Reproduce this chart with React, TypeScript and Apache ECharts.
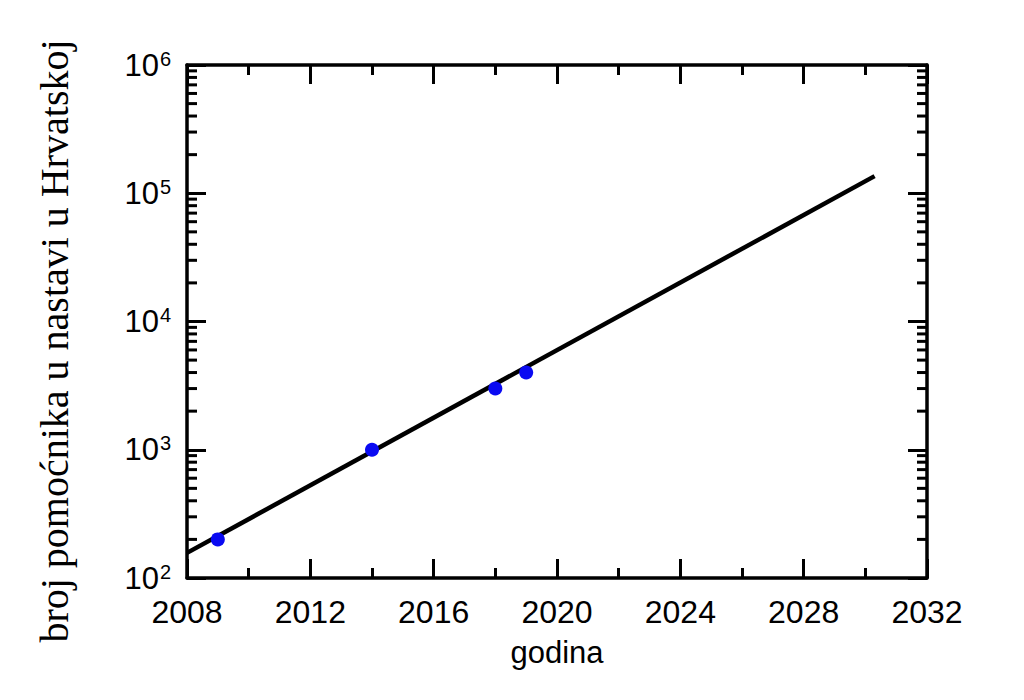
import React, { useEffect, useRef } from "react";
import * as echarts from "echarts";

const years = [2009, 2014, 2018, 2019];
const counts = [200, 1000, 3000, 4000];
const fitYears = [2008, 2030.3];
const fitCounts = [157, 136000];
const xTicks = { min: 2008, max: 2032, interval: 4 };
const yRange = { min: 100, max: 1000000 };
const minorMultipliers = [2, 3, 4, 5, 6, 7, 8, 9];
const decades = [100, 1000, 10000, 100000];
const xTitle = "godina";
const yTitle = "broj pomoćnika u nastavi u Hrvatskoj";

export default function App() {
  const ref = useRef<HTMLDivElement>(null);
  useEffect(() => {
    if (!ref.current) return;
    const chart = echarts.init(ref.current, undefined, { renderer: "svg" });
    const minorVals: number[][] = [];
    decades.forEach((d) => minorMultipliers.forEach((m) => minorVals.push([xTicks.min, d * m])));
    const sans = "'Liberation Sans', Arial, sans-serif";
    const axisLine = { show: true, lineStyle: { color: "#000", width: 3.5 } };
    const tickStyle = { color: "#000", width: 3 };
    const commonX = {
      type: "value",
      min: xTicks.min,
      max: xTicks.max,
      interval: xTicks.interval,
      splitLine: { show: false },
      axisLine,
      axisTick: { show: true, inside: true, length: 19, lineStyle: tickStyle },
      minorTick: { show: true, splitNumber: 2, length: 10, lineStyle: tickStyle },
      minorSplitLine: { show: false },
    };
    const commonY = {
      type: "log",
      logBase: 10,
      min: yRange.min,
      max: yRange.max,
      splitLine: { show: false },
      axisLine,
      axisTick: { show: true, inside: true, length: 19, lineStyle: tickStyle },
    };
    chart.setOption({
      animation: false,
      grid: { left: 187, top: 65, width: 740, height: 513, containLabel: false },
      xAxis: [
        {
          ...commonX,
          position: "bottom",
          axisLabel: {
            show: true,
            margin: 18,
            color: "#000",
            fontSize: 32,
            fontFamily: sans,
            formatter: (v: number) => String(v),
          },
          name: xTitle,
          nameLocation: "middle",
          nameGap: 59,
          nameTextStyle: { color: "#000", fontSize: 31, fontFamily: sans },
        },
        { ...commonX, position: "top", axisLabel: { show: false } },
      ],
      yAxis: [
        {
          ...commonY,
          position: "left",
          axisLabel: {
            show: true,
            margin: 16,
            formatter: (v: number) => `{b|10}{s|${Math.round(Math.log10(v))}}`,
            rich: {
              b: { fontSize: 31, color: "#000", fontFamily: sans, lineHeight: 33 },
              s: {
                fontSize: 20,
                color: "#000",
                fontFamily: sans,
                verticalAlign: "top",
                lineHeight: 33,
                padding: [0, 0, 0, 1],
              },
            },
          },
        },
        { ...commonY, position: "right", axisLabel: { show: false } },
      ],
      graphic: [
        {
          type: "text",
          x: 54,
          y: 341,
          rotation: Math.PI / 2,
          style: {
            text: yTitle,
            fontSize: 40,
            fontFamily: "'Liberation Serif', 'Times New Roman', serif",
            fill: "#000",
            align: "center",
            verticalAlign: "middle",
          },
        },
      ],
      series: [
        {
          type: "custom",
          xAxisIndex: 0,
          yAxisIndex: 0,
          silent: true,
          clip: false,
          data: minorVals,
          renderItem: (params: any, api: any) => {
            const v = api.value(1);
            const l = api.coord([xTicks.min, v]);
            const r = api.coord([xTicks.max, v]);
            const style = { stroke: "#000", lineWidth: 3 };
            return {
              type: "group",
              children: [
                { type: "line", shape: { x1: l[0], y1: l[1], x2: l[0] + 10, y2: l[1] }, style },
                { type: "line", shape: { x1: r[0], y1: r[1], x2: r[0] - 10, y2: r[1] }, style },
              ],
            };
          },
        },
        {
          type: "line",
          data: fitYears.map((y, i) => [y, fitCounts[i]]),
          showSymbol: false,
          lineStyle: { color: "#000", width: 4.5 },
          itemStyle: { color: "#000" },
          z: 2,
        },
        {
          type: "scatter",
          data: years.map((y, i) => [y, counts[i]]),
          symbolSize: 14,
          itemStyle: { color: "#0a0af2", opacity: 1 },
          z: 3,
        },
      ],
    });
    return () => chart.dispose();
  }, []);
  return <div ref={ref} style={{ width: 1024, height: 700, position: "absolute", left: 0, top: 0 }} />;
}
